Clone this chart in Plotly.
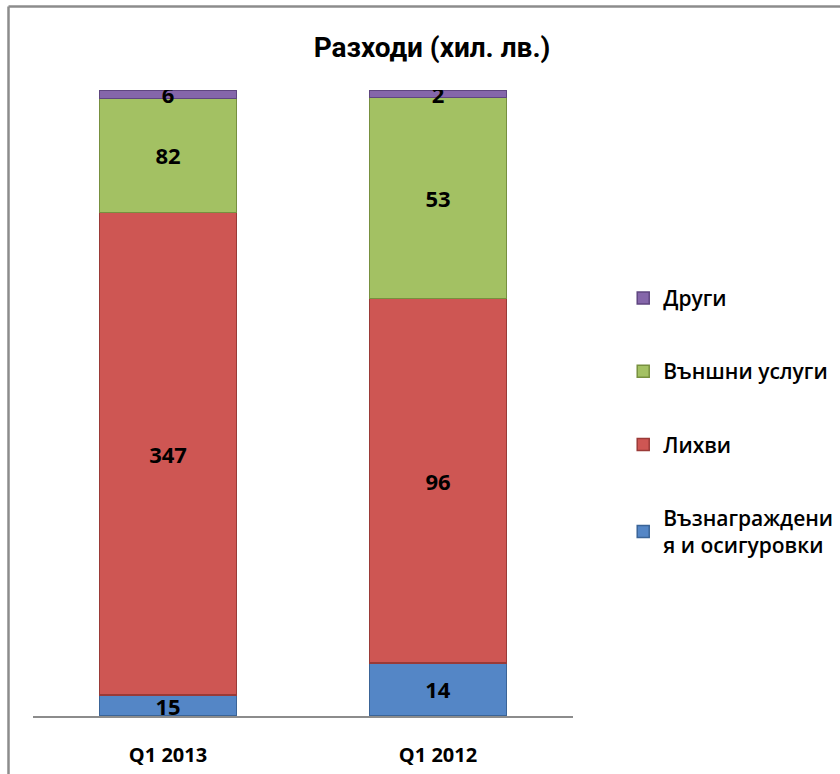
import plotly.graph_objects as go

categories = ["Q1 2013", "Q1 2012"]
series_names = ["Възнаграждения и осигуровки", "Лихви", "Външни услуги", "Други"]
legend_labels = ["Възнаграждени<br>я и осигуровки", "Лихви", "Външни услуги", "Други"]
vals_comp = [15, 14]
vals_interest = [347, 96]
vals_services = [82, 53]
vals_other = [6, 2]
colors = ["#5486C6", "#CE5653", "#A3C163", "#8566AA"]
edge_colors = ["#3A6497", "#9A3A37", "#77903F", "#5F4680"]

series_values = [vals_comp, vals_interest, vals_services, vals_other]

FONT = "Open Sans"

fig = go.Figure()
for i, (name, lab, vals) in enumerate(zip(series_names, legend_labels, series_values)):
    fig.add_trace(go.Bar(
        x=categories, y=vals, name=lab,
        legendgroup=str(i),
        legendrank=10 - i,
        marker=dict(color=colors[i], line=dict(color=edge_colors[i], width=1.5)),
        text=[str(v) for v in vals],
        textposition="inside",
        insidetextanchor="middle",
        constraintext="none",
        textangle=0,
        textfont=dict(family=FONT, size=22, color="black", weight="bold"),
        width=0.507,
        hoverinfo="skip",
    ))

fig.update_layout(
    barmode="stack",
    barnorm="percent",
    width=840, height=774,
    paper_bgcolor="white", plot_bgcolor="white",
    margin=dict(l=33, r=267, t=90, b=58, autoexpand=False),
    uniformtext=dict(mode="show", minsize=10),
    title=dict(text="<b>Разходи (хил. лв.)</b>", x=432 / 840, xanchor="center",
               y=1 - 47 / 774, yanchor="middle",
               font=dict(family="Roboto", size=28, color="black")),
    legend=dict(x=1.093, xanchor="left", y=0.70, yanchor="top",
                traceorder="grouped", tracegroupgap=43,
                font=dict(family=FONT, size=21, color="black", weight=600),
                bgcolor="rgba(0,0,0,0)"),
    xaxis=dict(showline=True, linecolor="#8C8C8C", linewidth=1.5, automargin=False,
               tickfont=dict(family=FONT, size=20, color="black", weight="bold"),
               ticks="", ticklabelstandoff=20, showgrid=False, zeroline=False),
    yaxis=dict(visible=False, range=[0, 100], showgrid=False, zeroline=False),
    showlegend=True,
)

# chart border: only top and left edges are visible in the reference
bx = (8.5 - 33) / 540
by = (716 - 6.5) / 626
fig.add_shape(type="line", xref="paper", yref="paper",
              x0=bx, x1=2.0, y0=by, y1=by,
              line=dict(color="#8C8C8C", width=2.5), layer="below")
fig.add_shape(type="line", xref="paper", yref="paper",
              x0=bx, x1=bx, y0=-0.5, y1=by,
              line=dict(color="#8C8C8C", width=2.5), layer="below")

fig.write_html("out.html",
               config={"displayModeBar": False},
               post_script="document.body.style.margin='0';document.body.style.padding='0';document.body.style.overflow='hidden';")
